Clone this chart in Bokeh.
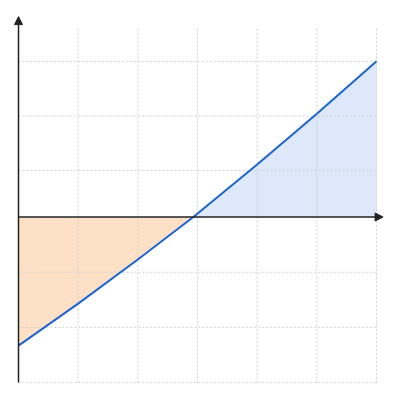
from bokeh.plotting import figure
from bokeh.models import Arrow, NormalHead
from bokeh.embed import file_html
from bokeh.resources import INLINE

# ---- data ----
x_vals = [0, 1, 2, 2.93, 4, 5, 6]
y_vals = [-2.33, -1.57, -0.77, 0, 0.95, 1.87, 2.82]
cross_index = 3            # point where the curve crosses y = 0

x_grid = [1, 2, 3, 4, 5, 6]
y_grid = [-3, -2, -1, 0.84, 1.83, 2.82]
x_min, x_max = 0, 6
y_min, y_max = -3, 3.45
x_arrow_end = 6.11
y_arrow_end = 3.63

# ---- layout ----
W = H = 384
ux, uy = 59.67, 55.2      # pixels per unit
ox, oy = 18, 216.5        # origin position in canvas pixels

p = figure(width=W, height=H,
           x_range=(-ox / ux, (W - ox) / ux),
           y_range=(-(H - oy) / uy, oy / uy),
           x_axis_type=None, y_axis_type=None,
           toolbar_location=None, output_backend="svg",
           min_border=0)
p.outline_line_color = None
p.background_fill_color = "white"

# fills between curve and x axis
p.varea(x=x_vals[:cross_index + 1], y1=y_vals[:cross_index + 1], y2=0,
        fill_color="#fde0c6")
p.varea(x=x_vals[cross_index:], y1=0, y2=y_vals[cross_index:],
        fill_color="#dde8fb")

# dotted grid
grid_style = dict(line_color="#cfcfcf", line_width=1, line_dash="2 2")
p.segment(x0=x_grid, y0=y_min, x1=x_grid, y1=y_max, **grid_style)
p.segment(x0=x_min, y0=y_grid, x1=x_max, y1=y_grid, **grid_style)

# curve
p.line(x_vals, y_vals, line_color="#1c64d0", line_width=2)

# axes with arrow heads
axis_col = "#222222"
p.add_layout(Arrow(end=NormalHead(size=8, fill_color=axis_col, line_color=axis_col),
                   x_start=0, y_start=y_min, x_end=0, y_end=y_arrow_end,
                   line_color=axis_col, line_width=1.5))
p.add_layout(Arrow(end=NormalHead(size=8, fill_color=axis_col, line_color=axis_col),
                   x_start=0, y_start=0, x_end=x_arrow_end, y_end=0,
                   line_color=axis_col, line_width=1.5))

open("out.html", "w").write(file_html(p, INLINE))
